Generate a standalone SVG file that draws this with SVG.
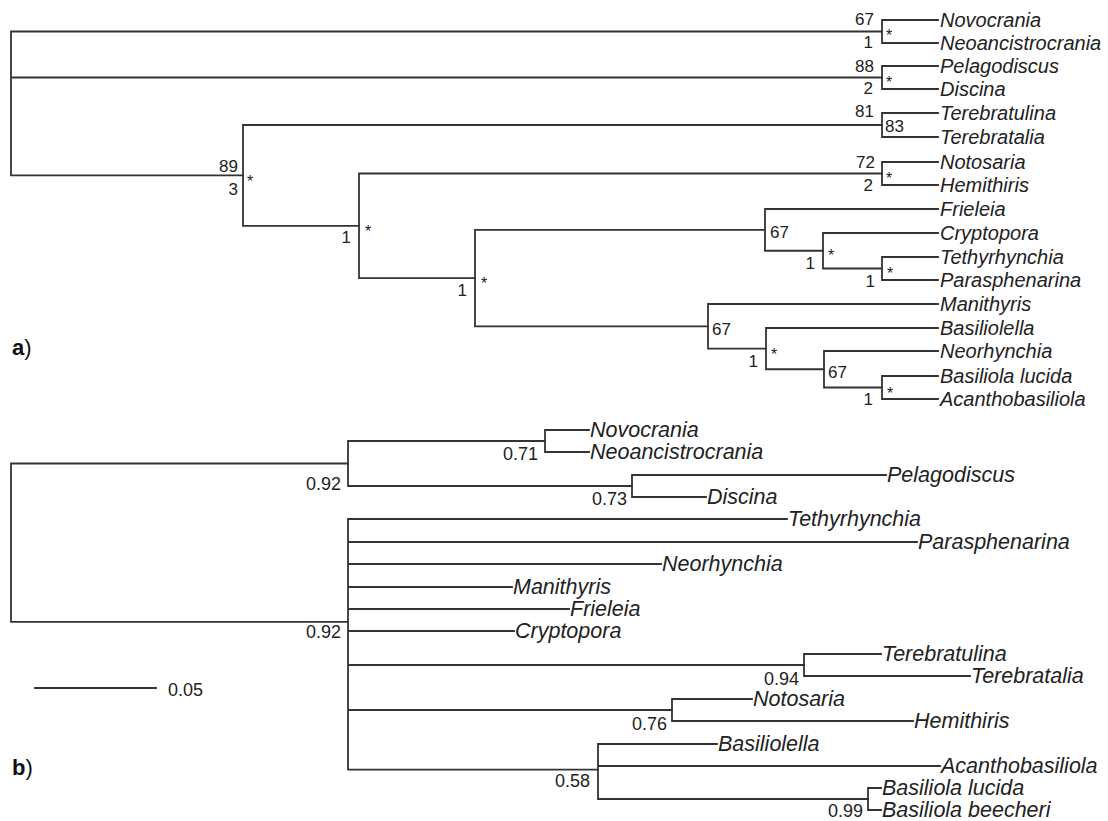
<svg xmlns="http://www.w3.org/2000/svg" width="1108" height="821" viewBox="0 0 1108 821">
<style>
.e{fill:none;stroke:#333;stroke-width:1.8;stroke-linecap:square}
.t{font-family:"Liberation Sans",Arial,sans-serif;font-style:italic;font-size:20px;fill:#222}
.tb{font-family:"Liberation Sans",Arial,sans-serif;font-style:italic;font-size:21.5px;fill:#222}
.n{font-family:"Liberation Sans",Arial,sans-serif;font-size:17px;fill:#222}
.m{font-family:"Liberation Sans",Arial,sans-serif;font-size:18px;fill:#222}
.s{font-family:"Liberation Sans",Arial,sans-serif;font-size:16px;fill:#222}
.r{text-anchor:end}
.p{font-family:"Liberation Sans",Arial,sans-serif;font-size:22px;fill:#111}
</style>
<rect width="1108" height="821" fill="#fff"/>
<g id="connectors">
<!-- tree a -->
<path class="e" d="M11,31.5V175.4 M11,31.5H882 M11,77.5H882 M11,175.4H243"/>
<path class="e" d="M882,20V43 M882,20H938 M882,43H938"/>
<path class="e" d="M882,66V89 M882,66H938 M882,89H938"/>
<path class="e" d="M243,125V225.8 M243,125H882 M243,225.8H359"/>
<path class="e" d="M882,113V137 M882,113H938 M882,137H938"/>
<path class="e" d="M359,173.5V278.1 M359,173.5H882 M359,278.1H475"/>
<path class="e" d="M882,162V185 M882,162H938 M882,185H938"/>
<path class="e" d="M475,229.9V326.3 M475,229.9H765 M475,326.3H708"/>
<path class="e" d="M765,209V250.75 M765,209H938 M765,250.75H823"/>
<path class="e" d="M823,233V268.5 M823,233H938 M823,268.5H882"/>
<path class="e" d="M882,257V280 M882,257H938 M882,280H938"/>
<path class="e" d="M708,304V348.6 M708,304H938 M708,348.6H766"/>
<path class="e" d="M766,328V369.25 M766,328H938 M766,369.25H824"/>
<path class="e" d="M824,351V387.5 M824,351H938 M824,387.5H882"/>
<path class="e" d="M882,376V399 M882,376H938 M882,399H938"/>
<!-- tree b -->
<path class="e" d="M11,463.5V621.8 M11,463.5H348 M11,621.8H348"/>
<path class="e" d="M348,441V486 M348,441H545 M348,486H632"/>
<path class="e" d="M545,430V452 M545,430H589 M545,452H589"/>
<path class="e" d="M632,475V497 M632,475H886 M632,497H706"/>
<path class="e" d="M348,519V769.7 M348,519H787 M348,542H917 M348,564H661 M348,587H512 M348,609H569 M348,631H514 M348,665H804 M348,710H672 M348,769.7H598"/>
<path class="e" d="M804,654V676 M804,654H881 M804,676H970"/>
<path class="e" d="M672,699V721 M672,699H752 M672,721H913"/>
<path class="e" d="M598,744V799 M598,744H717 M598,766H940 M598,799H868"/>
<path class="e" d="M868,788V810 M868,788H881 M868,810H881"/>
<!-- scale bar -->
<path class="e" d="M35,688H156"/>
</g>
<g id="panel-labels">
<text class="p" x="12" y="355"><tspan font-weight="bold">a</tspan>)</text>
<text class="p" x="12" y="775"><tspan font-weight="bold">b</tspan>)</text>
<text class="m" x="168" y="696" font-size="20">0.05</text>
</g>
<!-- tree a leaves -->
<g id="a-novocrania"><text class="t" x="940" y="27">Novocrania</text></g>
<g id="a-neoancistrocrania"><text class="t" x="940" y="50">Neoancistrocrania</text></g>
<g id="a-pelagodiscus"><text class="t" x="940" y="73">Pelagodiscus</text></g>
<g id="a-discina"><text class="t" x="940" y="96">Discina</text></g>
<g id="a-terebratulina"><text class="t" x="940" y="120">Terebratulina</text></g>
<g id="a-terebratalia"><text class="t" x="940" y="144">Terebratalia</text></g>
<g id="a-notosaria"><text class="t" x="940" y="169">Notosaria</text></g>
<g id="a-hemithiris"><text class="t" x="940" y="192">Hemithiris</text></g>
<g id="a-frieleia"><text class="t" x="940" y="216">Frieleia</text></g>
<g id="a-cryptopora"><text class="t" x="940" y="240">Cryptopora</text></g>
<g id="a-tethyrhynchia"><text class="t" x="940" y="264">Tethyrhynchia</text></g>
<g id="a-parasphenarina"><text class="t" x="940" y="287">Parasphenarina</text></g>
<g id="a-manithyris"><text class="t" x="940" y="311">Manithyris</text></g>
<g id="a-basiliolella"><text class="t" x="940" y="335">Basiliolella</text></g>
<g id="a-neorhynchia"><text class="t" x="940" y="358">Neorhynchia</text></g>
<g id="a-basiliola-lucida"><text class="t" x="940" y="383">Basiliola lucida</text></g>
<g id="a-acanthobasiliola"><text class="t" x="940" y="406">Acanthobasiliola</text></g>
<!-- tree a supports -->
<g id="a-node-novo"><text class="n r" x="874" y="25">67</text><text class="n r" x="873" y="48">1</text><text class="s" x="886" y="41">*</text></g>
<g id="a-node-pelago"><text class="n r" x="874" y="72">88</text><text class="n r" x="873" y="94">2</text><text class="s" x="886" y="88">*</text></g>
<g id="a-node-tereb"><text class="n r" x="874" y="117">81</text><text class="n" x="885" y="132" font-size="20">83</text></g>
<g id="a-node-noto"><text class="n r" x="875" y="168">72</text><text class="n r" x="873" y="191">2</text><text class="s" x="886" y="184">*</text></g>
<g id="a-node-243"><text class="n r" x="238" y="172">89</text><text class="n r" x="238" y="195">3</text><text class="s" x="247" y="187">*</text></g>
<g id="a-node-359"><text class="n r" x="351" y="243">1</text><text class="s" x="365" y="237">*</text></g>
<g id="a-node-475"><text class="n r" x="467" y="296">1</text><text class="s" x="481" y="289">*</text></g>
<g id="a-node-765"><text class="n" x="770" y="238">67</text></g>
<g id="a-node-823"><text class="n r" x="815" y="269">1</text><text class="s" x="828" y="261">*</text></g>
<g id="a-node-882b"><text class="n r" x="875" y="287">1</text><text class="s" x="887" y="279">*</text></g>
<g id="a-node-708"><text class="n" x="712" y="335">67</text></g>
<g id="a-node-766"><text class="n r" x="758" y="367">1</text><text class="s" x="771" y="360">*</text></g>
<g id="a-node-824"><text class="n" x="828" y="378">67</text></g>
<g id="a-node-882c"><text class="n r" x="873" y="405">1</text><text class="s" x="887" y="399">*</text></g>
<!-- tree b leaves -->
<g id="b-novocrania"><text class="tb" x="590" y="437">Novocrania</text></g>
<g id="b-neoancistrocrania"><text class="tb" x="590" y="459">Neoancistrocrania</text></g>
<g id="b-pelagodiscus"><text class="tb" x="887" y="482">Pelagodiscus</text></g>
<g id="b-discina"><text class="tb" x="707" y="504">Discina</text></g>
<g id="b-tethyrhynchia"><text class="tb" x="788" y="526">Tethyrhynchia</text></g>
<g id="b-parasphenarina"><text class="tb" x="918" y="549">Parasphenarina</text></g>
<g id="b-neorhynchia"><text class="tb" x="662" y="571">Neorhynchia</text></g>
<g id="b-manithyris"><text class="tb" x="513" y="594">Manithyris</text></g>
<g id="b-frieleia"><text class="tb" x="570" y="616">Frieleia</text></g>
<g id="b-cryptopora"><text class="tb" x="515" y="638">Cryptopora</text></g>
<g id="b-terebratulina"><text class="tb" x="882" y="661">Terebratulina</text></g>
<g id="b-terebratalia"><text class="tb" x="971" y="683">Terebratalia</text></g>
<g id="b-notosaria"><text class="tb" x="753" y="706">Notosaria</text></g>
<g id="b-hemithiris"><text class="tb" x="914" y="728">Hemithiris</text></g>
<g id="b-basiliolella"><text class="tb" x="718" y="751">Basiliolella</text></g>
<g id="b-acanthobasiliola"><text class="tb" x="941" y="773">Acanthobasiliola</text></g>
<g id="b-basiliola-lucida"><text class="tb" x="882" y="795">Basiliola lucida</text></g>
<g id="b-basiliola-beecheri"><text class="tb" x="882" y="817">Basiliola beecheri</text></g>
<!-- tree b supports -->
<g id="b-node-top"><text class="m r" x="341" y="490">0.92</text></g>
<g id="b-node-poly"><text class="m r" x="341" y="638">0.92</text></g>
<g id="b-node-novo"><text class="m r" x="538" y="460">0.71</text></g>
<g id="b-node-pelago"><text class="m r" x="627" y="505">0.73</text></g>
<g id="b-node-tereb"><text class="m r" x="799" y="685">0.94</text></g>
<g id="b-node-noto"><text class="m r" x="667" y="730">0.76</text></g>
<g id="b-node-basil"><text class="m r" x="590" y="787">0.58</text></g>
<g id="b-node-lucida"><text class="m r" x="863" y="817">0.99</text></g>
</svg>
